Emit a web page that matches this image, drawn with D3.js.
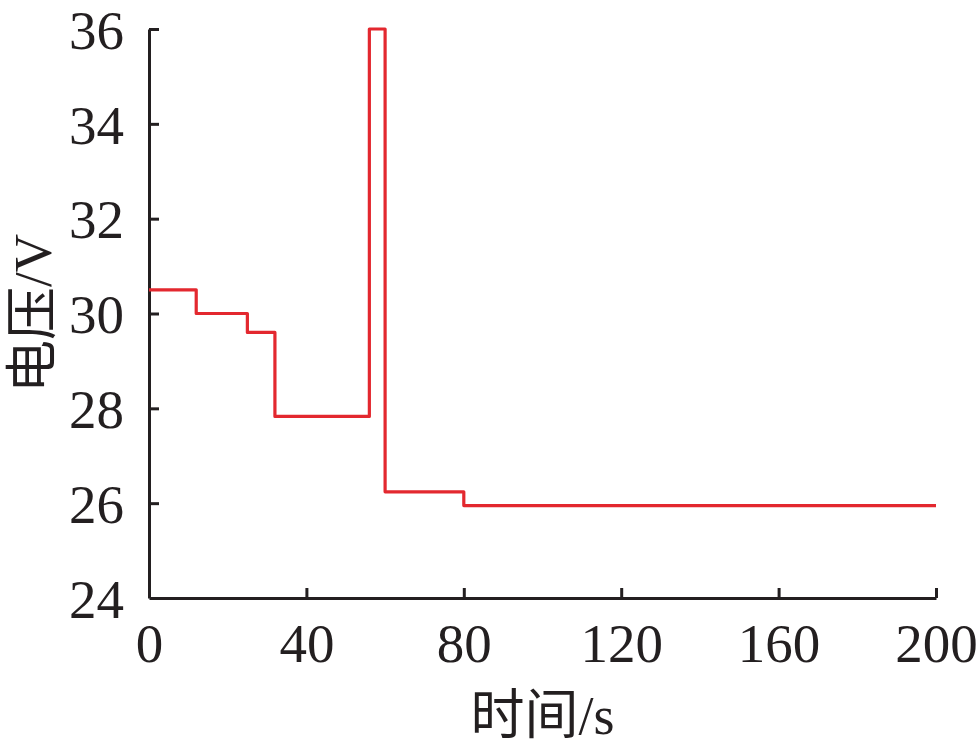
<!DOCTYPE html>
<html lang="zh">
<head>
  <meta charset="UTF-8">
  <title>电压</title>
  <script src="https://d3js.org/d3.v7.min.js"></script>
  <style>
    body { margin: 0; background: #fff; }
    svg { display: block; }
    .lbl { font-family: "Liberation Serif", "Times New Roman", "Noto Sans CJK SC", serif; fill: #231f20; }
  </style>
</head>
<body>
  <svg width="979" height="749"></svg>
  <script>
    // step change times (s) and voltage held from each time on
    const times = [0, 12, 25, 32, 56, 60, 80, 200];
    const volts = [30.5, 30.0, 29.6, 27.83, 36.0, 26.24, 25.95, 25.95];
    const xTicks = [0, 40, 80, 120, 160, 200];
    const yTicks = [24, 26, 28, 30, 32, 34, 36];

    const svg = d3.select("svg");
    const mLeft = 149, mRight = 936, mTop = 29, mBottom = 598;

    const x = d3.scaleLinear().domain([0, 200]).range([mLeft, mRight]);
    const y = d3.scaleLinear().domain([24, 36]).range([mBottom, mTop]);

    const axisColor = "#231f20";

    // x axis, ticks pointing inward
    const gx = svg.append("g")
      .attr("transform", `translate(0,${mBottom})`)
      .call(d3.axisBottom(x).tickValues(xTicks).tickSizeInner(-10).tickSizeOuter(0).tickPadding(14));
    gx.select(".domain").attr("stroke", axisColor).attr("stroke-width", 3);
    gx.selectAll(".tick line").attr("stroke", axisColor).attr("stroke-width", 3);
    gx.selectAll(".tick text")
      .attr("class", "lbl")
      .attr("font-size", 55)
      .attr("dy", "0.9em");

    // y axis
    const gy = svg.append("g")
      .attr("transform", `translate(${mLeft},0)`)
      .call(d3.axisLeft(y).tickValues(yTicks).tickSizeInner(-10).tickSizeOuter(0).tickPadding(25));
    gy.select(".domain").attr("stroke", axisColor).attr("stroke-width", 3);
    gy.selectAll(".tick line").attr("stroke", axisColor).attr("stroke-width", 3)
      .filter(d => d === 24).remove();
    gy.selectAll(".tick text")
      .attr("class", "lbl")
      .attr("font-size", 55)
      .attr("dy", "0.35em");

    // voltage step line
    const pts = times.map((t, i) => [t, volts[i]]);
    const line = d3.line()
      .x(d => x(d[0]))
      .y(d => y(d[1]))
      .curve(d3.curveStepAfter);

    svg.append("path")
      .datum(pts)
      .attr("fill", "none")
      .attr("stroke", "#e3282f")
      .attr("stroke-width", 3.2)
      .attr("stroke-linejoin", "round")
      .attr("d", line);

    // axis titles
    svg.append("text")
      .attr("class", "lbl")
      .attr("x", (mLeft + mRight) / 2)
      .attr("y", 734)
      .attr("text-anchor", "middle")
      .attr("font-size", 54)
      .text("时间/s");

    svg.append("text")
      .attr("class", "lbl")
      .attr("transform", `translate(51,${(mTop + mBottom) / 2}) rotate(-90)`)
      .attr("text-anchor", "middle")
      .attr("font-size", 53)
      .text("电压/V");
  </script>
</body>
</html>
